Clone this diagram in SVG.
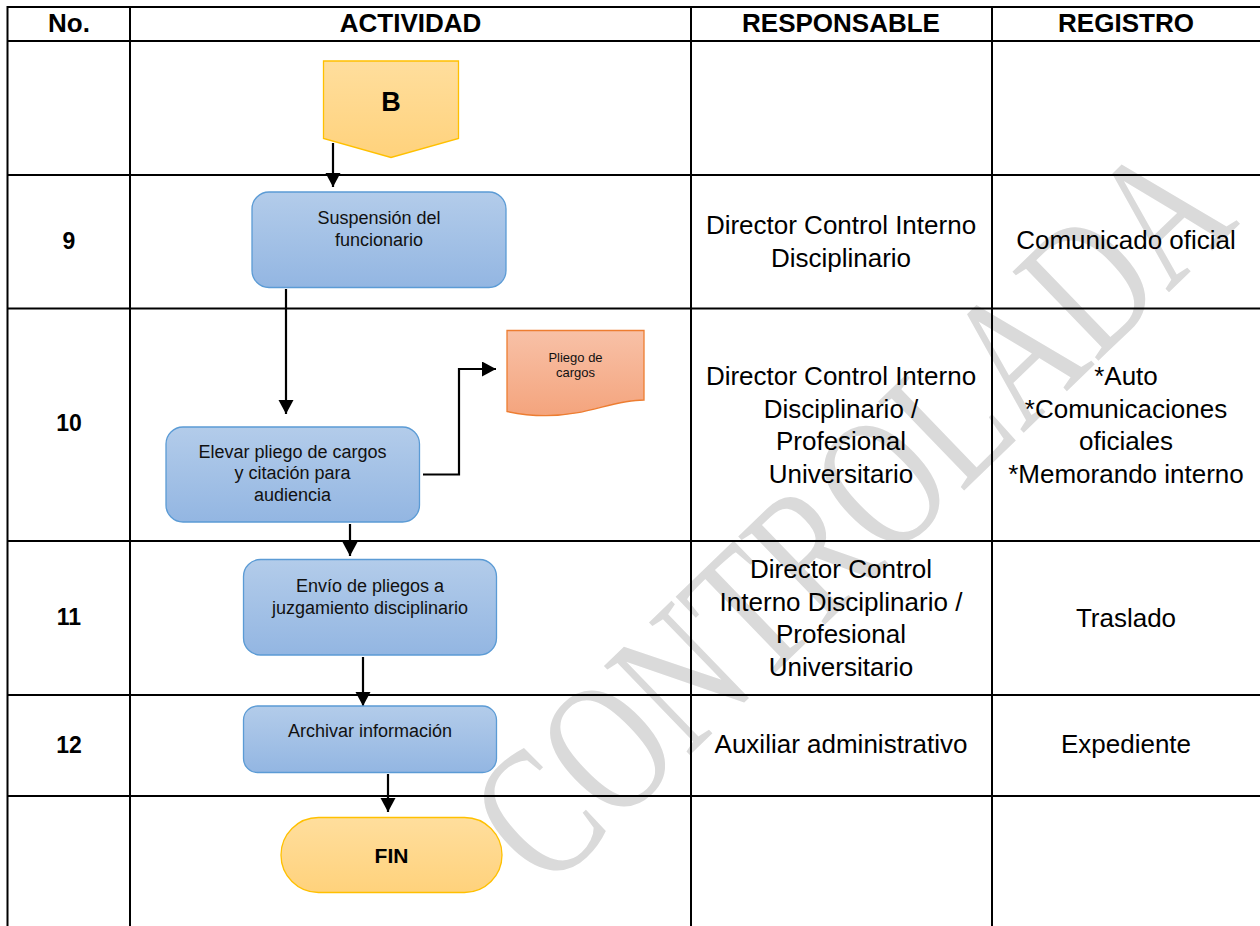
<svg xmlns="http://www.w3.org/2000/svg" width="1260" height="926" viewBox="0 0 1260 926">
  <defs>
    <linearGradient id="gBlue" x1="0" y1="0" x2="0" y2="1">
      <stop offset="0" stop-color="#B3CCEA"/>
      <stop offset="1" stop-color="#93B6E2"/>
    </linearGradient>
    <linearGradient id="gYellow" x1="0" y1="0" x2="0" y2="1">
      <stop offset="0" stop-color="#FFDE9D"/>
      <stop offset="1" stop-color="#FFD27C"/>
    </linearGradient>
    <linearGradient id="gOrange" x1="0" y1="0" x2="0" y2="1">
      <stop offset="0" stop-color="#F8C1A7"/>
      <stop offset="1" stop-color="#F4A47D"/>
    </linearGradient>
    <marker id="arrow" markerUnits="userSpaceOnUse" markerWidth="16" markerHeight="16" refX="14" refY="7.5" orient="auto">
      <path d="M0,0 L14,7.5 L0,15 Z" fill="#000"/>
    </marker>
  </defs>
  <style>
    .grid { stroke:#000; stroke-width:2; fill:none; }
    .hdr { font-family:"Liberation Sans", Arial, sans-serif; font-weight:bold; font-size:26px; fill:#000; text-anchor:middle; }
    .num { font-family:"Liberation Sans", Arial, sans-serif; font-weight:bold; font-size:23px; fill:#000; text-anchor:middle; }
    .cell { font-family:"Liberation Sans", Arial, sans-serif; font-size:26px; fill:#000; text-anchor:middle; }
    .box { fill:url(#gBlue); stroke:#5B9BD5; stroke-width:1.3; }
    .btxt { font-family:"Liberation Sans", Arial, sans-serif; font-size:18px; fill:#111; text-anchor:middle; }
    .yel { fill:url(#gYellow); stroke:#FFC000; stroke-width:1.3; }
    .conn { stroke:#000; stroke-width:2.2; fill:none; marker-end:url(#arrow); }
    .wm { font-family:"Liberation Serif", "Times New Roman", serif; font-size:140px; fill:#DADADA; text-anchor:middle; }
  </style>
  <rect x="0" y="0" width="1260" height="926" fill="#FFFFFF"/>

  <!-- watermark -->
  <g id="watermark">
    <text class="wm" transform="translate(894,558) rotate(-44) scale(1,1.35)">CONTROLADA</text>
  </g>

  <!-- table grid -->
  <g id="table">
    <line class="grid" x1="7.5" y1="7" x2="1260" y2="7"/>
    <line class="grid" x1="7.5" y1="41" x2="1260" y2="41"/>
    <line class="grid" x1="7.5" y1="175" x2="1260" y2="175"/>
    <line class="grid" x1="7.5" y1="308.5" x2="1260" y2="308.5"/>
    <line class="grid" x1="7.5" y1="541" x2="1260" y2="541"/>
    <line class="grid" x1="7.5" y1="695" x2="1260" y2="695"/>
    <line class="grid" x1="7.5" y1="796" x2="1260" y2="796"/>
    <line class="grid" x1="7.5" y1="6" x2="7.5" y2="926"/>
    <line class="grid" x1="130" y1="6" x2="130" y2="926"/>
    <line class="grid" x1="691" y1="6" x2="691" y2="926"/>
    <line class="grid" x1="992" y1="6" x2="992" y2="926"/>
  </g>

  <g id="header">
    <text class="hdr" x="69" y="32">No.</text>
    <text class="hdr" x="410.5" y="32">ACTIVIDAD</text>
    <text class="hdr" x="841" y="32">RESPONSABLE</text>
    <text class="hdr" x="1126" y="32">REGISTRO</text>
  </g>

  <g id="numbers">
    <text class="num" x="69" y="249">9</text>
    <text class="num" x="69" y="431">10</text>
    <text class="num" x="69" y="625">11</text>
    <text class="num" x="69" y="753">12</text>
  </g>

  <g id="responsables">
    <text class="cell" x="841" y="234">Director Control Interno</text>
    <text class="cell" x="841" y="267">Disciplinario</text>
    <text class="cell" x="841" y="385">Director Control Interno</text>
    <text class="cell" x="841" y="418">Disciplinario /</text>
    <text class="cell" x="841" y="450">Profesional</text>
    <text class="cell" x="841" y="483">Universitario</text>
    <text class="cell" x="841" y="578">Director Control</text>
    <text class="cell" x="841" y="611">Interno Disciplinario /</text>
    <text class="cell" x="841" y="643">Profesional</text>
    <text class="cell" x="841" y="676">Universitario</text>
    <text class="cell" x="841" y="753">Auxiliar administrativo</text>
  </g>

  <g id="registros">
    <text class="cell" x="1126" y="249">Comunicado oficial</text>
    <text class="cell" x="1126" y="385">*Auto</text>
    <text class="cell" x="1126" y="418">*Comunicaciones</text>
    <text class="cell" x="1126" y="450">oficiales</text>
    <text class="cell" x="1126" y="483">*Memorando interno</text>
    <text class="cell" x="1126" y="627">Traslado</text>
    <text class="cell" x="1126" y="753">Expediente</text>
  </g>

  <!-- connectors -->
  <g id="connectors">
    <path class="conn" d="M333,143 L333,187"/>
    <path class="conn" d="M286,289 L286,414"/>
    <path class="conn" d="M423,474.5 L459,474.5 L459,369 L496,369"/>
    <path class="conn" d="M350,524 L350,556"/>
    <path class="conn" d="M363,657 L363,706"/>
    <path class="conn" d="M388,774 L388,812"/>
  </g>

  <g id="nodeB">
    <path class="yel" d="M323.5,61 L458.5,61 L458.5,138.5 L391,157.5 L323.5,138.5 Z"/>
    <text x="391" y="111" font-family="Liberation Sans, Arial, sans-serif" font-weight="bold" font-size="27" text-anchor="middle" fill="#000">B</text>
  </g>

  <g id="node9">
    <rect class="box" x="252" y="192" width="254" height="95.5" rx="17" ry="17"/>
    <text class="btxt" x="379" y="224">Suspensión del</text>
    <text class="btxt" x="379" y="246">funcionario</text>
  </g>

  <g id="node10">
    <rect class="box" x="166" y="427" width="253.5" height="95" rx="17" ry="17"/>
    <text class="btxt" x="292.5" y="458">Elevar pliego de cargos</text>
    <text class="btxt" x="292.5" y="479">y citación para</text>
    <text class="btxt" x="292.5" y="500.5">audiencia</text>
  </g>

  <g id="docPliego">
    <path d="M507,330.5 H644 V400 C612,400 588,415.7 546,415.7 C531,415.7 518,414 507,411.5 Z" fill="url(#gOrange)" stroke="#ED7D31" stroke-width="1.3"/>
    <text x="575.5" y="362" font-family="Liberation Sans, Arial, sans-serif" font-size="13" text-anchor="middle" fill="#111">Pliego de</text>
    <text x="575.5" y="377" font-family="Liberation Sans, Arial, sans-serif" font-size="13" text-anchor="middle" fill="#111">cargos</text>
  </g>

  <g id="node11">
    <rect class="box" x="243.5" y="559.5" width="253" height="95.5" rx="17" ry="17"/>
    <text class="btxt" x="370" y="591.5">Envío de pliegos a</text>
    <text class="btxt" x="370" y="613.5">juzgamiento disciplinario</text>
  </g>

  <g id="node12">
    <rect class="box" x="243.5" y="706" width="253" height="66.5" rx="14" ry="14"/>
    <text class="btxt" x="370" y="737">Archivar información</text>
  </g>

  <g id="nodeFIN">
    <rect class="yel" x="281" y="817.5" width="221" height="75" rx="37.5" ry="37.5"/>
    <text x="391.5" y="862.5" font-family="Liberation Sans, Arial, sans-serif" font-weight="bold" font-size="21" text-anchor="middle" fill="#000">FIN</text>
  </g>
</svg>
